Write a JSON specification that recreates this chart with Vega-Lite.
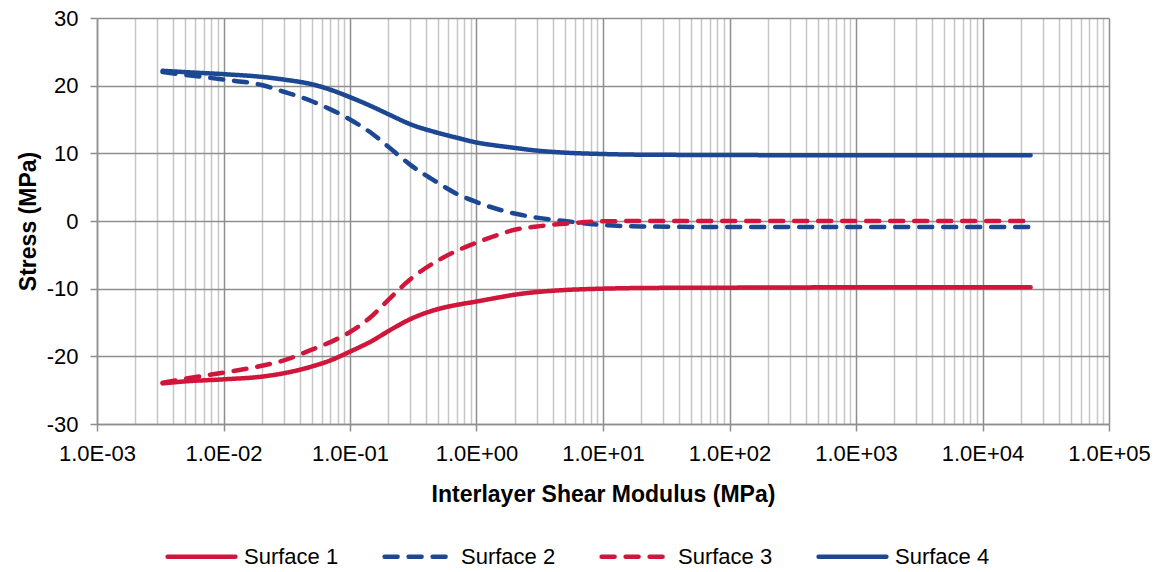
{
  "$schema": "https://vega.github.io/schema/vega-lite/v6.json",
  "autosize": {"type": "none"},
  "width": 1012,
  "height": 406,
  "padding": {"left": 97, "top": 18, "right": 54, "bottom": 148},
  "background": "white",
  "config": {
    "view": {"stroke": null},
    "font": "Liberation Sans"
  },
  "data": {
    "values": [
      {"g": 0.0033, "stress": -24.0, "s": "Surface 1"},
      {"g": 0.005, "stress": -23.7, "s": "Surface 1"},
      {"g": 0.01, "stress": -23.4, "s": "Surface 1"},
      {"g": 0.02, "stress": -23.0, "s": "Surface 1"},
      {"g": 0.03, "stress": -22.5, "s": "Surface 1"},
      {"g": 0.05, "stress": -21.5, "s": "Surface 1"},
      {"g": 0.07, "stress": -20.6, "s": "Surface 1"},
      {"g": 0.1, "stress": -19.3, "s": "Surface 1"},
      {"g": 0.15, "stress": -17.7, "s": "Surface 1"},
      {"g": 0.2, "stress": -16.3, "s": "Surface 1"},
      {"g": 0.3, "stress": -14.5, "s": "Surface 1"},
      {"g": 0.5, "stress": -13.0, "s": "Surface 1"},
      {"g": 0.7, "stress": -12.4, "s": "Surface 1"},
      {"g": 1, "stress": -11.9, "s": "Surface 1"},
      {"g": 1.5, "stress": -11.3, "s": "Surface 1"},
      {"g": 2, "stress": -10.9, "s": "Surface 1"},
      {"g": 3, "stress": -10.5, "s": "Surface 1"},
      {"g": 5, "stress": -10.2, "s": "Surface 1"},
      {"g": 10, "stress": -10.0, "s": "Surface 1"},
      {"g": 20, "stress": -9.9, "s": "Surface 1"},
      {"g": 100, "stress": -9.85, "s": "Surface 1"},
      {"g": 1000, "stress": -9.8, "s": "Surface 1"},
      {"g": 24000, "stress": -9.8, "s": "Surface 1"},

      {"g": 0.0033, "stress": 22.0, "s": "Surface 2"},
      {"g": 0.005, "stress": 21.6, "s": "Surface 2"},
      {"g": 0.01, "stress": 20.9, "s": "Surface 2"},
      {"g": 0.02, "stress": 20.1, "s": "Surface 2"},
      {"g": 0.03, "stress": 19.1, "s": "Surface 2"},
      {"g": 0.05, "stress": 17.7, "s": "Surface 2"},
      {"g": 0.07, "stress": 16.5, "s": "Surface 2"},
      {"g": 0.1, "stress": 15.0, "s": "Surface 2"},
      {"g": 0.15, "stress": 12.9, "s": "Surface 2"},
      {"g": 0.2, "stress": 11.0, "s": "Surface 2"},
      {"g": 0.3, "stress": 8.3, "s": "Surface 2"},
      {"g": 0.5, "stress": 5.6, "s": "Surface 2"},
      {"g": 0.7, "stress": 4.0, "s": "Surface 2"},
      {"g": 1, "stress": 2.8, "s": "Surface 2"},
      {"g": 1.5, "stress": 1.7, "s": "Surface 2"},
      {"g": 2, "stress": 1.1, "s": "Surface 2"},
      {"g": 3, "stress": 0.5, "s": "Surface 2"},
      {"g": 5, "stress": 0.0, "s": "Surface 2"},
      {"g": 10, "stress": -0.6, "s": "Surface 2"},
      {"g": 20, "stress": -0.8, "s": "Surface 2"},
      {"g": 100, "stress": -0.9, "s": "Surface 2"},
      {"g": 1000, "stress": -0.9, "s": "Surface 2"},
      {"g": 24000, "stress": -0.9, "s": "Surface 2"},

      {"g": 0.0033, "stress": -23.9, "s": "Surface 3"},
      {"g": 0.005, "stress": -23.3, "s": "Surface 3"},
      {"g": 0.01, "stress": -22.4, "s": "Surface 3"},
      {"g": 0.02, "stress": -21.4, "s": "Surface 3"},
      {"g": 0.03, "stress": -20.6, "s": "Surface 3"},
      {"g": 0.05, "stress": -19.0, "s": "Surface 3"},
      {"g": 0.07, "stress": -17.9, "s": "Surface 3"},
      {"g": 0.1, "stress": -16.4, "s": "Surface 3"},
      {"g": 0.15, "stress": -14.0, "s": "Surface 3"},
      {"g": 0.2, "stress": -11.7, "s": "Surface 3"},
      {"g": 0.3, "stress": -8.6, "s": "Surface 3"},
      {"g": 0.5, "stress": -5.8, "s": "Surface 3"},
      {"g": 0.7, "stress": -4.4, "s": "Surface 3"},
      {"g": 1, "stress": -3.2, "s": "Surface 3"},
      {"g": 1.5, "stress": -2.0, "s": "Surface 3"},
      {"g": 2, "stress": -1.3, "s": "Surface 3"},
      {"g": 3, "stress": -0.8, "s": "Surface 3"},
      {"g": 5, "stress": -0.4, "s": "Surface 3"},
      {"g": 10, "stress": -0.05, "s": "Surface 3"},
      {"g": 20, "stress": 0.0, "s": "Surface 3"},
      {"g": 100, "stress": 0.0, "s": "Surface 3"},
      {"g": 1000, "stress": 0.0, "s": "Surface 3"},
      {"g": 24000, "stress": 0.0, "s": "Surface 3"},

      {"g": 0.0033, "stress": 22.2, "s": "Surface 4"},
      {"g": 0.005, "stress": 22.0, "s": "Surface 4"},
      {"g": 0.01, "stress": 21.7, "s": "Surface 4"},
      {"g": 0.02, "stress": 21.3, "s": "Surface 4"},
      {"g": 0.03, "stress": 20.9, "s": "Surface 4"},
      {"g": 0.05, "stress": 20.2, "s": "Surface 4"},
      {"g": 0.07, "stress": 19.4, "s": "Surface 4"},
      {"g": 0.1, "stress": 18.3, "s": "Surface 4"},
      {"g": 0.15, "stress": 16.9, "s": "Surface 4"},
      {"g": 0.2, "stress": 15.8, "s": "Surface 4"},
      {"g": 0.3, "stress": 14.3, "s": "Surface 4"},
      {"g": 0.5, "stress": 13.0, "s": "Surface 4"},
      {"g": 0.7, "stress": 12.3, "s": "Surface 4"},
      {"g": 1, "stress": 11.6, "s": "Surface 4"},
      {"g": 1.5, "stress": 11.1, "s": "Surface 4"},
      {"g": 2, "stress": 10.8, "s": "Surface 4"},
      {"g": 3, "stress": 10.4, "s": "Surface 4"},
      {"g": 5, "stress": 10.1, "s": "Surface 4"},
      {"g": 10, "stress": 9.9, "s": "Surface 4"},
      {"g": 20, "stress": 9.8, "s": "Surface 4"},
      {"g": 100, "stress": 9.75, "s": "Surface 4"},
      {"g": 1000, "stress": 9.7, "s": "Surface 4"},
      {"g": 24000, "stress": 9.7, "s": "Surface 4"}
    ]
  },
  "mark": {"type": "line", "strokeWidth": 4.5, "strokeCap": "round", "strokeJoin": "round", "interpolate": "monotone"},
  "encoding": {
    "x": {
      "field": "g",
      "type": "quantitative",
      "scale": {"type": "log", "domain": [0.001, 100000], "nice": false},
      "axis": {
        "title": "Interlayer Shear Modulus (MPa)",
        "titleFont": "Liberation Sans",
        "titleFontSize": 23,
        "titleFontWeight": "bold",
        "titleColor": "black",
        "titlePadding": 19,
        "values": [0.001, 0.002, 0.003, 0.004, 0.005, 0.006, 0.007, 0.008, 0.009,
                   0.01, 0.02, 0.03, 0.04, 0.05, 0.06, 0.07, 0.08, 0.09,
                   0.1, 0.2, 0.3, 0.4, 0.5, 0.6, 0.7, 0.8, 0.9,
                   1, 2, 3, 4, 5, 6, 7, 8, 9,
                   10, 20, 30, 40, 50, 60, 70, 80, 90,
                   100, 200, 300, 400, 500, 600, 700, 800, 900,
                   1000, 2000, 3000, 4000, 5000, 6000, 7000, 8000, 9000,
                   10000, 20000, 30000, 40000, 50000, 60000, 70000, 80000, 90000, 100000],
        "labelExpr": "abs(log(datum.value)/LN10 - round(log(datum.value)/LN10)) < 0.001 ? '1.0E' + (round(log(datum.value)/LN10) < 0 ? '-' : '+') + (abs(round(log(datum.value)/LN10)) < 10 ? '0' : '') + abs(round(log(datum.value)/LN10)) : ''",
        "labelFont": "Liberation Sans",
        "labelFontSize": 22,
        "labelColor": "black",
        "labelPadding": 12,
        "labelOverlap": false,
        "labelFlush": false,
        "labelBound": false,
        "domainColor": "#8E8E8E",
        "domainWidth": 1.5,
        "tickSize": 7,
        "tickWidth": 1.5,
        "tickColor": "#8E8E8E",
        "tickOpacity": {"condition": {"test": "abs(log(datum.value)/LN10 - round(log(datum.value)/LN10)) < 0.001", "value": 1}, "value": 0},
        "grid": true,
        "gridWidth": 1.5,
        "gridColor": {"condition": {"test": "abs(log(datum.value)/LN10 - round(log(datum.value)/LN10)) < 0.001", "value": "#8E8E8E"}, "value": "#C6C6C6"}
      }
    },
    "y": {
      "field": "stress",
      "type": "quantitative",
      "scale": {"domain": [-30, 30], "nice": false, "zero": false},
      "axis": {
        "title": "Stress (MPa)",
        "titleFont": "Liberation Sans",
        "titleFontSize": 23,
        "titleFontWeight": "bold",
        "titleColor": "black",
        "titlePadding": 6,
        "values": [-30, -20, -10, 0, 10, 20, 30],
        "labelExpr": "datum.value + ''",
        "labelFont": "Liberation Sans",
        "labelFontSize": 22,
        "labelColor": "black",
        "labelPadding": 12,
        "domainColor": "#8E8E8E",
        "domainWidth": 1.5,
        "tickSize": 7,
        "tickWidth": 1.5,
        "tickColor": "#8E8E8E",
        "grid": true,
        "gridWidth": 1.5,
        "gridColor": "#8E8E8E"
      }
    },
    "color": {
      "field": "s",
      "type": "nominal",
      "scale": {"domain": ["Surface 1", "Surface 2", "Surface 3", "Surface 4"], "range": ["#D0163A", "#1B4793", "#D0163A", "#1B4793"]},
      "legend": {
        "title": null,
        "orient": "none",
        "legendX": 68,
        "legendY": 502,
        "direction": "horizontal",
        "columns": 4,
        "columnPadding": 36,
        "padding": 0,
        "symbolType": "stroke",
        "symbolSize": 4600,
        "symbolStrokeWidth": 4.5,
        "labelFont": "Liberation Sans",
        "labelFontSize": 22,
        "labelColor": "black",
        "labelOffset": 6,
        "labelLimit": 300,
        "encode": {"symbols": {"update": {"strokeCap": {"value": "round"}}}}
      }
    },
    "strokeDash": {
      "field": "s",
      "type": "nominal",
      "scale": {"domain": ["Surface 1", "Surface 2", "Surface 3", "Surface 4"], "range": [[1, 0], [13, 11], [13, 11], [1, 0]]},
      "legend": null
    }
  }
}
